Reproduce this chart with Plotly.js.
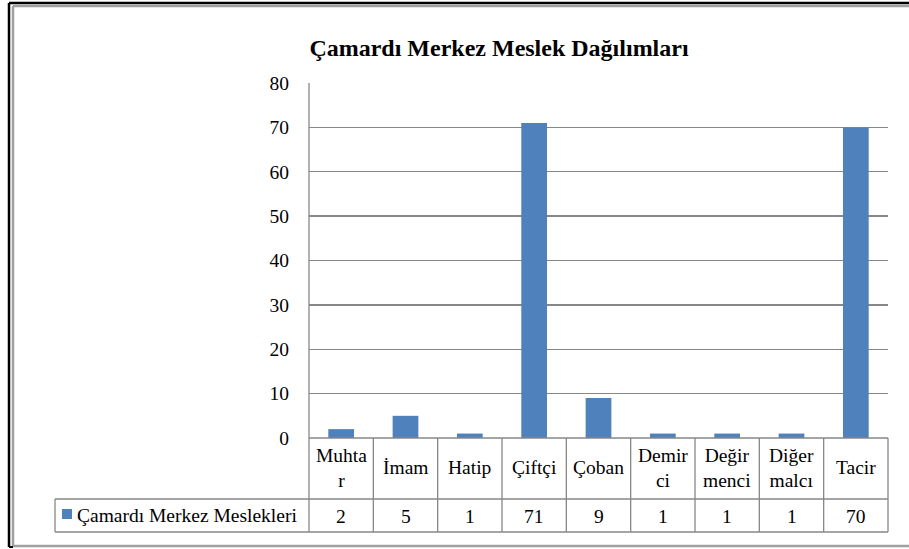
<!DOCTYPE html>
<html>
<head>
<meta charset="utf-8">
<script src="https://cdn.plot.ly/plotly-3.0.1.min.js"></script>
<style>html,body{margin:0;padding:0;background:#fff;}#chart{width:909px;height:549px;}</style>
</head>
<body>
<div id="chart"></div>
<script>
const categories = ["Muhtar", "İmam", "Hatip", "Çiftçi", "Çoban", "Demirci", "Değirmenci", "Diğer malcı", "Tacir"];
const headerLabels = ["Muhta<br>r", "İmam", "Hatip", "Çiftçi", "Çoban", "Demir<br>ci", "Değir<br>menci", "Diğer<br>malcı", "Tacir"];
const values = [2, 5, 1, 71, 9, 1, 1, 1, 70];
const seriesName = "Çamardı Merkez Meslekleri";
const chartTitle = "Çamardı Merkez Meslek Dağılımları";
const yTicks = [0, 10, 20, 30, 40, 50, 60, 70, 80];

const W = 909, H = 549;
const L = 309, R = 888, T = 83, B = 438;
const px = x => (x - L) / (R - L);
const py = y => (B - y) / (B - T);
const n = categories.length;
const grid = '#878787';
const font = '"Liberation Serif", "Times New Roman", serif';

const shapes = [];
const annotations = [];
function line(x0, y0, x1, y1, color, w) {
  shapes.push({type: 'line', xref: 'paper', yref: 'paper', x0: px(x0), y0: py(y0), x1: px(x1), y1: py(y1), line: {color: color, width: w}});
}
// table lines
const hdrBottom = 499, valBottom = 532, legLeft = 55;
line(L, B, R, B, grid, 1.3);
line(legLeft, hdrBottom, R, hdrBottom, grid, 1.3);
line(legLeft, valBottom, R, valBottom, grid, 1.3);
line(legLeft, hdrBottom, legLeft, valBottom, grid, 1.3);
line(L, T, L, valBottom, grid, 1.3);
for (let i = 1; i <= n; i++) {
  const xx = L + (R - L) * i / n;
  line(xx, B, xx, valBottom, grid, 1.3);
}
// table text
categories.forEach((c, i) => {
  annotations.push({xref: 'paper', yref: 'paper', x: (i + 0.5) / n, y: py(468), text: headerLabels[i], showarrow: false, xanchor: 'center', yanchor: 'middle', font: {family: font, size: 19.5, color: '#000'}});
  annotations.push({xref: 'paper', yref: 'paper', x: (i + 0.5) / n, y: py(516), text: String(values[i]), showarrow: false, xanchor: 'center', yanchor: 'middle', font: {family: font, size: 19.5, color: '#000'}});
});
// legend key
shapes.push({type: 'rect', xref: 'paper', yref: 'paper', x0: px(62), x1: px(72), y0: py(509), y1: py(519), fillcolor: '#4F81BD', line: {width: 0}});
annotations.push({xref: 'paper', yref: 'paper', x: px(75), y: py(515), text: seriesName, showarrow: false, xanchor: 'left', yanchor: 'middle', font: {family: font, size: 19.5, color: '#000'}});
// outer frame
line(9, 3, 909, 3, '#000', 2.5);
line(9, 3, 9, 547, '#000', 2.5);
line(9, 547, 13, 547, '#000', 2);
line(13, 6, 909, 6, '#a0a0a0', 2.5);
line(13, 6, 13, 546, '#a0a0a0', 2.5);
line(13, 546, 909, 546, '#a0a0a0', 2.5);

const trace = {
  type: 'bar', x: categories, y: values, name: seriesName,
  marker: {color: '#4F81BD', line: {width: 0}},
  hoverinfo: 'none'
};

const layout = {
  width: W, height: H,
  margin: {l: L, r: W - R, t: T, b: H - B, pad: 0},
  paper_bgcolor: '#fff', plot_bgcolor: '#fff',
  showlegend: false,
  bargap: 0.6,
  title: {text: '<b>' + chartTitle + '</b>', xref: 'container', yref: 'container', x: 499 / W, y: 1 - 48 / H, xanchor: 'center', yanchor: 'middle', font: {family: font, size: 24, color: '#000'}},
  xaxis: {type: 'category', range: [-0.5, n - 0.5], showticklabels: false, showgrid: false, zeroline: false, showline: false, ticks: '', fixedrange: true},
  yaxis: {range: [0, 80], tickvals: yTicks, ticktext: yTicks.map(String), showgrid: true, gridcolor: grid, gridwidth: 1.3, zeroline: false, showline: false, ticks: '', ticklabelstandoff: 19, tickfont: {family: font, size: 19.5, color: '#000'}, fixedrange: true},
  shapes: shapes,
  annotations: annotations,
  font: {family: font}
};

Plotly.newPlot('chart', [trace], layout, {displayModeBar: false, staticPlot: true});
</script>
</body>
</html>
